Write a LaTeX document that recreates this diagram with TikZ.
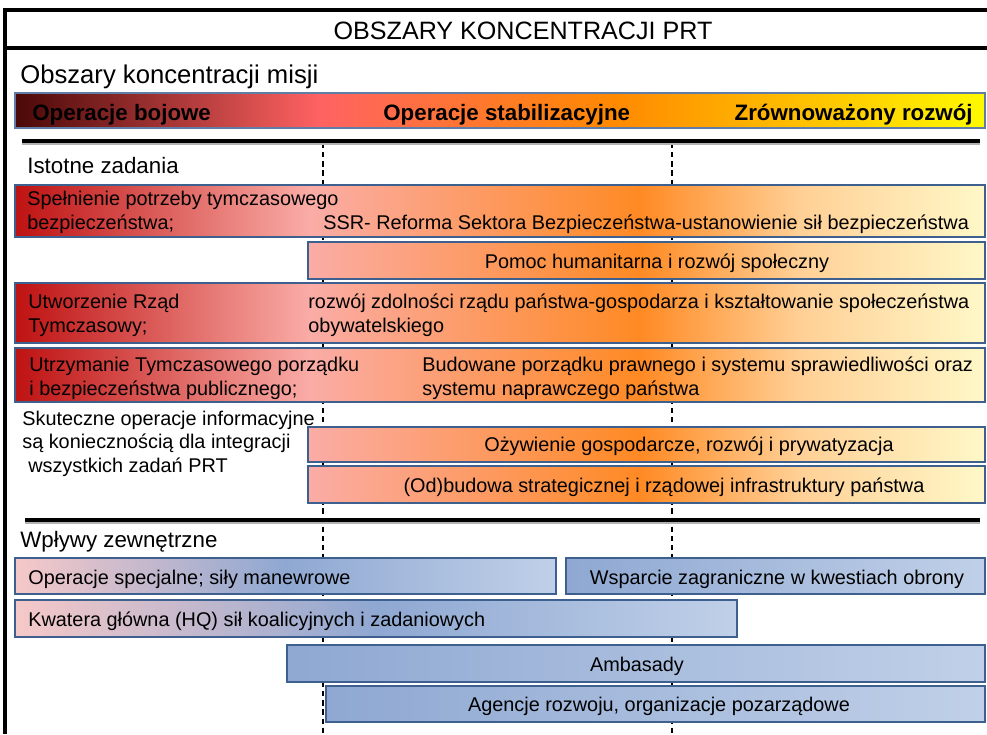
\documentclass[tikz,border=0pt]{standalone}
\usepackage{fontspec}
\setmainfont{Liberation Sans}

\definecolor{misA}{RGB}{75,8,8}
\definecolor{misB}{RGB}{255,98,98}
\definecolor{misC}{RGB}{255,138,0}
\definecolor{misD}{RGB}{255,200,0}
\definecolor{misE}{RGB}{255,250,0}
\definecolor{tskA}{RGB}{190,18,18}
\definecolor{tskB}{RGB}{250,172,166}
\definecolor{tskC}{RGB}{255,138,36}
\definecolor{tskD}{RGB}{255,208,150}
\definecolor{tskE}{RGB}{255,248,200}
\definecolor{frameblue}{RGB}{62,96,142}
\definecolor{bpink}{RGB}{246,200,200}
\definecolor{bmid}{RGB}{143,168,210}
\definecolor{blight}{RGB}{192,208,232}

\pgfdeclarehorizontalshading{missionshade}{100bp}{color(0bp)=(misA); color(25bp)=(misA); color(40.7bp)=(misB); color(56bp)=(misC); color(67bp)=(misD); color(75bp)=(misE); color(100bp)=(misE)}
\pgfdeclarehorizontalshading{taskfull}{100bp}{color(0bp)=(tskA); color(25bp)=(tskA); color(40.2bp)=(tskB); color(57.2bp)=(tskC); color(65.5bp)=(tskD); color(75bp)=(tskE); color(100bp)=(tskE)}
\pgfdeclarehorizontalshading{taskhalf}{100bp}{color(0bp)=(tskB); color(25bp)=(tskB); color(49.5bp)=(tskC); color(61.3bp)=(tskD); color(75bp)=(tskE); color(100bp)=(tskE)}

\tikzset{
  frameline/.style={line width=2pt, black},
  sepline/.style={line width=1.8pt, black, preaction={draw, black!30, line width=2.4pt, transform canvas={yshift=-1.3pt}}},
  guide/.style={line width=0.7pt, dash pattern=on 3pt off 2.2pt},
  taskbar/.style={draw=frameblue, line width=1.2pt},
  fullbar/.style={taskbar, shading=taskfull},
  halfbar/.style={taskbar, shading=taskhalf},
  pinkbar/.style={taskbar, left color=bpink, right color=blight, middle color=bmid},
  bluebar/.style={taskbar, left color=bmid, right color=blight},
  body/.style={font=\fontsize{11.3}{13.6}\selectfont, inner sep=0pt, align=left},
  head/.style={font=\fontsize{12.7}{15}\selectfont, inner sep=0pt},
  misbold/.style={font=\fontsize{12.7}{14}\selectfont\bfseries, inner sep=0pt}
}

\begin{document}
\begin{tikzpicture}[x=0.02cm, y=-0.02cm]
    \useasboundingbox (0,0) rectangle (987,734);
    % frame and title
    \draw[frameline] (5,8) -- (5,734);
    \draw[frameline] (5,10) -- (987,10);
    \draw[frameline] (5,48) -- (987,48);
    \node[anchor=base, inner sep=0pt, font=\fontsize{14.3}{16}\selectfont] (title) at (523,39) {OBSZARY KONCENTRACJI PRT};
    \node[anchor=base west, inner sep=0pt, font=\fontsize{14.6}{17}\selectfont] (misje) at (20,83) {Obszary koncentracji misji};

    % mission bar
    \shade[draw={rgb,255:red,95;green,125;blue,165}, line width=0.9pt, shading=missionshade] (15,93) rectangle (985,128);
    \node[misbold, anchor=base west] (bojowe) at (32,120) {Operacje bojowe};
    \node[misbold, anchor=base west] (stabil) at (383,120) {Operacje stabilizacyjne};
    \node[misbold, anchor=base east] (rozwoj) at (973,120) {Zrównoważony rozwój};

    % phase guides
    \draw[guide] (323,143) -- (323,734);
    \draw[guide] (672,143) -- (672,734);
    \draw[sepline] (22,141) -- (980,141);
    \draw[sepline] (25,520) -- (980,520);

    % tasks
    \node[head, anchor=base west] (zadania) at (27,173) {Istotne zadania};
    \shade[fullbar] (15,185) rectangle (985,237);
    \shade[halfbar] (308,242) rectangle (985,279);
    \shade[fullbar] (15,283) rectangle (985,343);
    \shade[fullbar] (15,348) rectangle (985,402);
    \shade[halfbar] (308,427) rectangle (985,462);
    \shade[halfbar] (308,466) rectangle (985,503);

    % multi-line nodes sit on the baseline of their last line
    \node[body, anchor=base west] (bezp) at (27,229) {Spełnienie potrzeby tymczasowego\\bezpieczeństwa;};
    \node[body, anchor=base west] (ssr) at (323,229) {SSR- Reforma Sektora Bezpieczeństwa-ustanowienie sił bezpieczeństwa};
    \node[body, anchor=base] (pomoc) at (657,268) {Pomoc humanitarna i rozwój społeczny};
    \node[body, anchor=base west] (rzad) at (28,332) {Utworzenie Rząd\\Tymczasowy;};
    \node[body, anchor=base west] (zdoln) at (308,332) {rozwój zdolności rządu państwa-gospodarza i kształtowanie społeczeństwa\\obywatelskiego};
    \node[body, anchor=base west] (porz) at (29,395) {Utrzymanie Tymczasowego porządku\\i bezpieczeństwa publicznego;};
    \node[body, anchor=base west] (prawo) at (422,395) {Budowane porządku prawnego i systemu sprawiedliwości oraz\\systemu naprawczego państwa};
    \node[body, anchor=base west, font=\fontsize{11.3}{13.1}\selectfont] (info) at (22,472) {Skuteczne operacje informacyjne\\są koniecznością dla integracji\\\hspace{0.3em}wszystkich zadań PRT};
    \node[body, anchor=base] (gosp) at (689,451) {Ożywienie gospodarcze, rozwój i prywatyzacja};
    \node[body, anchor=base] (infra) at (664,492) {(Od)budowa strategicznej i rządowej infrastruktury państwa};

    % external influences
    \node[head, anchor=base west] (wplywy) at (20,547) {Wpływy zewnętrzne};
    \shade[pinkbar] (15,558) rectangle (556,594);
    \shade[bluebar] (566,558) rectangle (985,594);
    \shade[pinkbar] (15,600) rectangle (737,637);
    \shade[bluebar] (287,645) rectangle (985,682);
    \shade[bluebar] (326,686) rectangle (985,722);

    \node[body, anchor=base west] (specj) at (28,584) {Operacje specjalne; siły manewrowe};
    \node[body, anchor=base] (obrona) at (777,584) {Wsparcie zagraniczne w kwestiach obrony};
    \node[body, anchor=base west] (hq) at (28,626) {Kwatera główna (HQ) sił koalicyjnych i zadaniowych};
    \node[body, anchor=base] (ambas) at (637,671) {Ambasady};
    \node[body, anchor=base] (agencje) at (659,711) {Agencje rozwoju, organizacje pozarządowe};
\end{tikzpicture}
\end{document}
